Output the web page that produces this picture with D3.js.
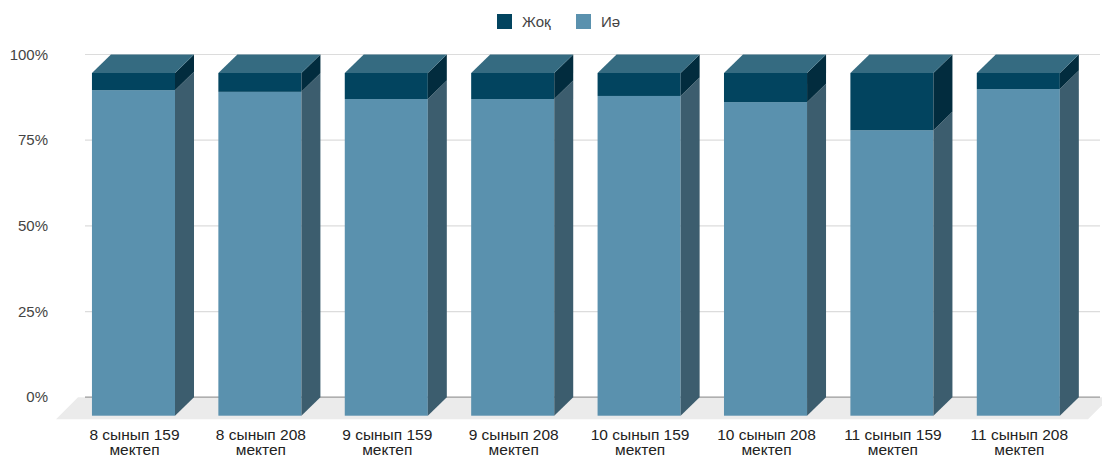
<!DOCTYPE html>
<html><head><meta charset="utf-8">
<script src="https://cdn.jsdelivr.net/npm/d3@7"></script>
<style>body{margin:0;background:#fff}svg{display:block;font-family:"Liberation Sans",Arial,sans-serif}</style>
</head><body><svg id="c" width="1102" height="459"></svg>
<script>
const categories = [["8 сынып 159","мектеп"],["8 сынып 208","мектеп"],["9 сынып 159","мектеп"],["9 сынып 208","мектеп"],["10 сынып 159","мектеп"],["10 сынып 208","мектеп"],["11 сынып 159","мектеп"],["11 сынып 208","мектеп"]];
const seriesNames = ["Жоқ","Иә"];
const yesValues = [95.0, 94.5, 92.4, 92.4, 93.3, 91.5, 83.3, 95.3];
const noValues  = [5.0, 5.5, 7.6, 7.6, 6.7, 8.5, 16.7, 4.7];
const yTicks = [0, 25, 50, 75, 100];
const tickLabels = ["0%","25%","50%","75%","100%"];

const svg = d3.select("#c");
const DX = 19, DY = 18.5;
const x = d3.scaleBand().domain(categories.map((d,i)=>i)).range([48.6, 1103.2]).padding(0.343);
const y = d3.scaleLinear().domain([0,100]).range([415.7, 73]);
const yBack = v => y(v) - DY;

// floor
svg.append("polygon").attr("points", [[78,yBack(0)],[1110,yBack(0)],[1088,y(0)+3.5],[56,y(0)+3.5]].map(p=>p.join(",")).join(" ")).attr("fill","#ebebeb");

// gridlines
svg.append("g").selectAll("line").data(yTicks).join("line")
  .attr("x1",85).attr("x2",1100).attr("y1",d=>yBack(d)).attr("y2",d=>yBack(d))
  .attr("stroke", d=> d===0 ? "#9a9a9a" : "#dcdcdc").attr("stroke-width",1.2);
svg.append("g").selectAll("text").data(yTicks).join("text")
  .attr("x",48).attr("y",d=>yBack(d)+5).attr("text-anchor","end")
  .attr("font-size",15).attr("fill","#444").text((d,i)=>tickLabels[i]);

const colors = {
  yesFront:"#5a91ae", yesSide:"#3c5d6e",
  noFront:"#02445f", noSide:"#022c3e",
  top:"#356b81"
};
const bw = x.bandwidth();
const bars = svg.append("g");
categories.forEach((c,i)=>{
  const g = bars.append("g");
  const x0 = x(i), x1 = x0 + bw;
  const segs = [
    {lo:0, hi:yesValues[i], front:colors.yesFront, side:colors.yesSide},
    {lo:yesValues[i], hi:yesValues[i]+noValues[i], front:colors.noFront, side:colors.noSide}
  ];
  segs.forEach(s=>{
    g.append("rect").attr("x",x0).attr("y",y(s.hi)).attr("width",bw).attr("height",y(s.lo)-y(s.hi)).attr("fill",s.front);
    g.append("polygon").attr("points",[[x1,y(s.hi)],[x1+DX,y(s.hi)-DY],[x1+DX,y(s.lo)-DY],[x1,y(s.lo)]].map(p=>p.join(",")).join(" ")).attr("fill",s.side);
  });
  const top = yesValues[i]+noValues[i];
  g.append("polygon").attr("points",[[x0,y(top)],[x0+DX,y(top)-DY],[x1+DX,y(top)-DY],[x1,y(top)]].map(p=>p.join(",")).join(" ")).attr("fill",colors.top);
});

// x labels
const xl = svg.append("g");
categories.forEach((c,i)=>{
  const t = xl.append("text").attr("x", x(i)+bw/2+1).attr("y",440).attr("text-anchor","middle").attr("font-size",15.5).attr("fill","#222");
  c.forEach((line,j)=> t.append("tspan").attr("x", x(i)+bw/2+1).attr("dy", j===0?0:15).text(line));
});

// legend
const lg = svg.append("g");
const legendItems = [{n:seriesNames[0], c:colors.noFront, x:497, tx:522},{n:seriesNames[1], c:colors.yesFront, x:576, tx:601}];
legendItems.forEach(d=>{
  lg.append("rect").attr("x",d.x).attr("y",14).attr("width",15).attr("height",15).attr("fill",d.c);
  lg.append("text").attr("x",d.tx).attr("y",27).attr("font-size",15).attr("fill","#444").text(d.n);
});
</script></body></html>
